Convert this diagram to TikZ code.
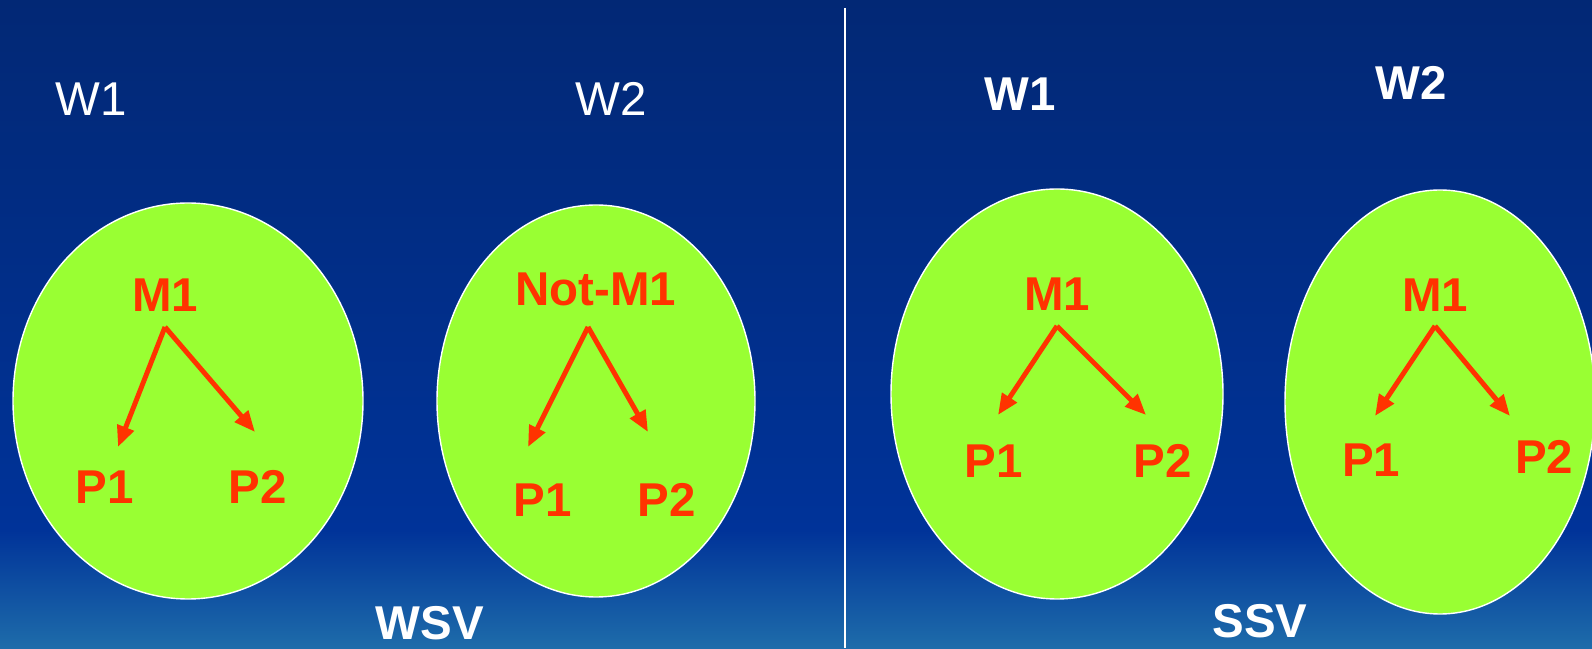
\documentclass[tikz,border=0pt]{standalone}
\usepackage{fontspec}
\setmainfont{Liberation Sans}
\usetikzlibrary{arrows.meta}
\usetikzlibrary{shapes.geometric}
\definecolor{navytop}{RGB}{2,40,117}
\definecolor{navymid}{RGB}{0,51,153}
\definecolor{navybot}{RGB}{30,108,170}
\definecolor{lime}{RGB}{153,255,51}
\definecolor{redorange}{RGB}{255,51,0}

\begin{document}
\begin{tikzpicture}[
    world/.style={ellipse, draw=white, line width=0.8pt, fill=lime, inner sep=0pt},
    lab/.style={text=redorange, font=\fontsize{27}{30}\selectfont\bfseries, inner sep=0pt},
    wlab/.style={text=white, font=\fontsize{27}{30}\selectfont, inner sep=0pt},
    arr/.style={draw=redorange, line width=2.8pt, -{Triangle[length=0.42cm, width=0.34cm]}}
  ]
      \useasboundingbox (0,0) rectangle (31.84,12.96);
      \shade[top color=navytop, bottom color=navymid] (0,2.36) rectangle (31.84,12.96);
      \shade[top color=navymid, bottom color=navybot] (0,0) rectangle (31.84,2.36);

      % two panels
      \coordinate (top) at (16.90,12.80);
      \coordinate (bot) at (16.90,0);
      \draw[white, line width=1.2pt] (top) -- (bot);

      \node[world, minimum width=7cm, minimum height=7.92cm] (E1) at (3.76,4.94) {};
      \node[world, minimum width=6.36cm, minimum height=7.84cm] (E2) at (11.92,4.94) {};
      \node[world, minimum width=6.64cm, minimum height=8.2cm] (E3) at (21.14,5.08) {};
      \node[world, minimum width=6.2cm, minimum height=8.48cm] (E4) at (28.80,4.92) {};

      \node[wlab] (W1a) at (1.82,10.98) {W1};
      \node[wlab] (W2a) at (12.22,10.98) {W2};
      \node[wlab, font=\fontsize{27}{30}\selectfont\bfseries] (W1b) at (20.40,11.08) {W1};
      \node[wlab, font=\fontsize{27}{30}\selectfont\bfseries] (W2b) at (28.22,11.30) {W2};
      \node[wlab, font=\fontsize{27}{30}\selectfont\bfseries] (wsv) at (8.60,0.50) {WSV};
      \node[wlab, font=\fontsize{27}{30}\selectfont\bfseries] (ssv) at (25.20,0.54) {SSV};

      % WSV
      \node[lab] (M1a) at (3.30,7.06) {M1};
      \node[lab] (P1a) at (2.10,3.22) {P1};
      \node[lab] (P2a) at (5.16,3.22) {P2};
      \coordinate (fa) at (3.30,6.42);
      \coordinate (ta1) at (2.36,4.02);
      \coordinate (ta2) at (5.10,4.32);
      \draw[arr] (fa) -- (ta1);
      \draw[arr] (fa) -- (ta2);

      \node[lab] (M1b) at (11.92,7.18) {Not-M1};
      \node[lab] (P1b) at (10.86,2.96) {P1};
      \node[lab] (P2b) at (13.34,2.96) {P2};
      \coordinate (fb) at (11.76,6.42);
      \coordinate (tb1) at (10.56,4.02);
      \coordinate (tb2) at (12.96,4.32);
      \draw[arr] (fb) -- (tb1);
      \draw[arr] (fb) -- (tb2);

      % SSV
      \node[lab] (M1c) at (21.14,7.08) {M1};
      \node[lab] (P1c) at (19.88,3.74) {P1};
      \node[lab] (P2c) at (23.26,3.74) {P2};
      \coordinate (fc) at (21.14,6.44);
      \coordinate (tc1) at (19.96,4.66);
      \coordinate (tc2) at (22.92,4.66);
      \draw[arr] (fc) -- (tc1);
      \draw[arr] (fc) -- (tc2);

      \node[lab] (M1d) at (28.70,7.06) {M1};
      \node[lab] (P1d) at (27.42,3.76) {P1};
      \node[lab] (P2d) at (30.88,3.82) {P2};
      \coordinate (fd) at (28.70,6.44);
      \coordinate (td1) at (27.50,4.64);
      \coordinate (td2) at (30.20,4.64);
      \draw[arr] (fd) -- (td1);
      \draw[arr] (fd) -- (td2);
\end{tikzpicture}
\end{document}
